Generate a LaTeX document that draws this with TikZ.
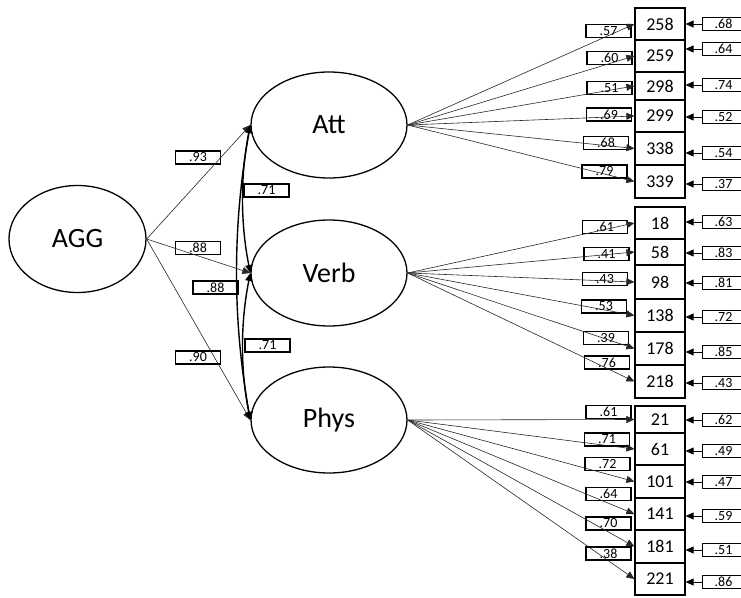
\documentclass[tikz,border=0pt]{standalone}
\usepackage{fontspec}
\setmainfont{Carlito}
\usetikzlibrary{shapes.geometric,arrows.meta}

\tikzset{
  latent/.style={draw, ellipse, line width=1.3pt, inner sep=0pt,
    minimum width=156pt, minimum height=106pt,
    font=\fontsize{28}{30}\selectfont},
  ind/.style={draw, rectangle, line width=1.2pt, inner sep=0pt,
    minimum width=50pt, font=\fontsize{18}{20}\selectfont},
  errlab/.style={draw, rectangle, line width=1.1pt, inner sep=0pt, anchor=west,
    minimum width=42pt, minimum height=13pt, font=\fontsize{14}{14}\selectfont},
  loadlab/.style={draw, rectangle, line width=1.1pt, inner sep=0pt,
    minimum width=45pt, minimum height=13pt, font=\fontsize{14}{14}\selectfont},
  tip/.style={-{Triangle[length=8pt,width=7pt]}},
  loading/.style={tip, line width=0.6pt, draw=black!85},
  errarrow/.style={tip, line width=0.8pt},
  cov/.style={{Triangle[length=8pt,width=7pt]}-{Triangle[length=8pt,width=7pt]}, line width=1.4pt}
}

\begin{document}
\begin{tikzpicture}[x=1pt, y=-1pt]
\useasboundingbox (0,0) rectangle (741,597);
\clip (0,0) rectangle (741,597);

% latent variables
\node[latent, minimum width=137pt, minimum height=107pt] (agg) at (77.5,239) {AGG};
\node[latent] (att)  at (329,125) {Att};
\node[latent] (verb) at (329,273) {Verb};
\node[latent] (phys) at (329,420) {Phys};

% second-order loadings and factor correlations (labels)
\node[loadlab] (sAtt)  at (198,157.5) {.93};
\node[loadlab] (sVerb) at (198,248) {.88};
\node[loadlab] (sPhys) at (198,357.5) {.90};
\node[loadlab] (cAP)   at (215.5,287.5) {.88};
\node[loadlab] (cAV)   at (266.5,190.5) {.71};
\node[loadlab] (cVP)   at (267.5,345.5) {.71};

\draw[loading] (agg.east) -- (att.west);
\draw[loading] (agg.east) -- (verb.west);
\draw[loading] (agg.east) -- (phys.west);

\draw[cov] (att.west) .. controls +(-10,50) and +(-10,-50) .. (verb.west);
\draw[cov] (verb.west) .. controls +(-10,50) and +(-10,-50) .. (phys.west);
\draw[cov] (att.west) .. controls +(-18,100) and +(-18,-100) .. (phys.west);

% indicators: name / centre y / height / error y / error value / label x / label y / loading / factor
\foreach \n/\cy/\h/\ey/\ev/\lx/\ly/\lv/\f in {
  258/24/32/24/.68/608.5/31/.57/att,
  259/56/32/49/.64/609.5/58/.60/att,
  298/86/28/85/.74/609.5/88/.51/att,
  299/116/32/117/.52/609/114.5/.69/att,
  338/148.5/33/153/.54/606/143/.68/att,
  339/181.5/33/184/.37/604.5/171.5/.79/att,
  18/223/32/222/.63/605/227/.61/verb,
  58/252/26/253/.83/606.5/254/.41/verb,
  98/282/34/283/.81/605/279/.43/verb,
  138/315.5/33/317/.72/604/306.5/.53/verb,
  178/348.5/33/352/.85/606/338/.39/verb,
  218/381.5/33/383/.43/607/362.5/.76/verb,
  21/419.5/27/420/.62/608.5/412/.61/phys,
  61/449/32/451/.49/607/439.5/.71/phys,
  101/481.5/33/482/.47/607.5/464/.72/phys,
  141/514/32/516/.59/608.5/494/.64/phys,
  181/546.5/33/550/.51/608.5/523.5/.70/phys,
  221/579/32/582/.86/608.5/553.5/.38/phys}
{
  \node[ind, minimum height=\h pt] (i\n) at (660,\cy) {\n};
  \node[errlab] (e\n) at (702,\ey) {\ev};
  \node[loadlab] (l\n) at (\lx,\ly) {\lv};
  \draw[errarrow] (e\n.west) -- (e\n.west -| i\n.east);
  \draw[loading] (\f.east) -- (i\n.west);
}
\end{tikzpicture}
\end{document}
